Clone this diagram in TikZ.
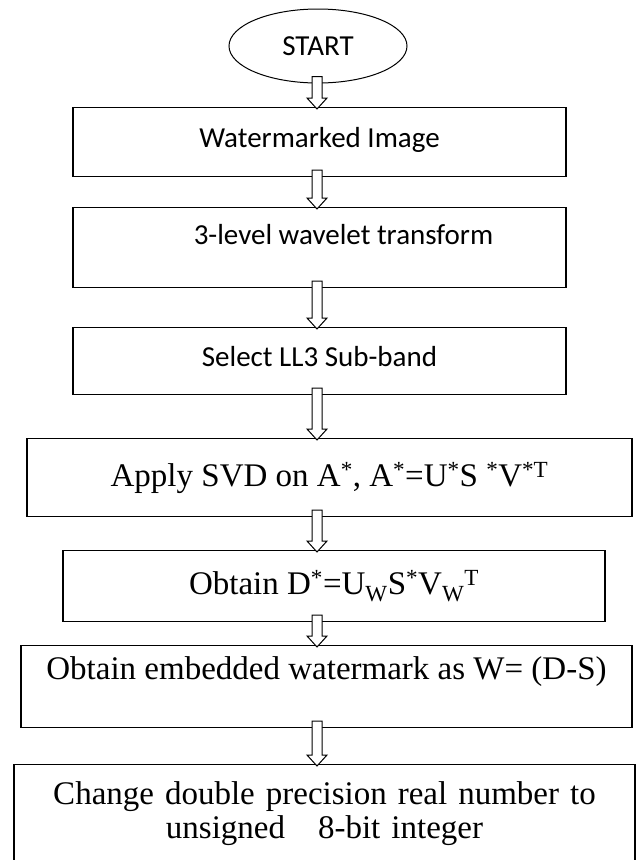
\documentclass[tikz,border=0pt]{standalone}
\usepackage{fontspec}
\setmainfont{Liberation Serif}
\newfontfamily\calibri{Carlito}
\usetikzlibrary{shapes.geometric, calc}
\def\arrowx{317pt}
\def\shaft{5pt}
\def\head{10pt}
\def\headlen{11pt}
\def\shapeFrame{(0,0) rectangle (640,860)}
\tikzset{
  stage/.style 2 args={draw, rectangle, line width=1.2pt, anchor=north, inner ysep=0pt,
    align=center, text height=#1pt, text depth=#2pt},
  sanslabel/.style={font=\calibri\fontsize{29}{34}\selectfont},
  seriflabel/.style={font=\fontsize{33}{34}\selectfont},
  hollowarrow/.style={draw, fill=white, line width=1pt, line join=miter}
}
% hollow block arrow from one step to the next
\newcommand{\flowarrow}[2]{%
  \draw[hollowarrow] let \p1=([yshift=7pt]#1.south), \p2=([yshift=-2pt]#2.north) in
    (\arrowx-\shaft,\y1) -- (\arrowx+\shaft,\y1) -- (\arrowx+\shaft,\y2+\headlen)
    -- (\arrowx+\head,\y2+\headlen) -- (\arrowx,\y2) -- (\arrowx-\head,\y2+\headlen)
    -- (\arrowx-\shaft,\y2+\headlen) -- cycle;}

\begin{document}
\begin{tikzpicture}[x=1pt, y=-1pt]
  %begin flowchart
    \useasboundingbox \shapeFrame;
    \clip \shapeFrame;
    %\draw [step=20, help lines] (0,0) grid (640,860);

    \node[ellipse, draw, line width=1pt, minimum width=178pt, minimum height=74pt, sanslabel] (start) at (318,46) {START};

    \node[stage={40.3}{28.7}, minimum width=493pt, sanslabel] (wmimg) at (319.5,107) {Watermarked Image};
    \node[stage={37.3}{42.7}, minimum width=493pt, sanslabel] (dwt) at (319.5,207) {\hspace*{48pt}3-level wavelet transform};
    \node[stage={39.3}{27.7}, minimum width=493pt, sanslabel] (ll3) at (319.5,327) {Select LL3 Sub-band};

    \node[stage={48}{30}, minimum width=605pt, seriflabel] (svd) at (329.5,438)
      {Apply SVD on A\textsuperscript{*}, A\textsuperscript{*}=U\textsuperscript{*}S \textsuperscript{*}V\textsuperscript{*T}};
    \node[stage={44}{27}, minimum width=542pt, seriflabel] (dstar) at (334,550)
      {Obtain D\textsuperscript{*}=U\textsubscript{W}S\textsuperscript{*}V\textsubscript{W}\textsuperscript{T}};
    \node[stage={34}{48}, minimum width=611pt, seriflabel] (extract) at (326.5,645)
      {Obtain embedded watermark as W= (D-S)};
    \node[stage={40}{76}, minimum width=621pt, text width=600pt, seriflabel] (convert) at (324.5,764)
      {Change double precision real number to\\ unsigned\ \ \ 8-bit integer};

    \flowarrow{start}{wmimg}
    \flowarrow{wmimg}{dwt}
    \flowarrow{dwt}{ll3}
    \flowarrow{ll3}{svd}
    \flowarrow{svd}{dstar}
    \flowarrow{dstar}{extract}
    \flowarrow{extract}{convert}
\end{tikzpicture}
\end{document}
